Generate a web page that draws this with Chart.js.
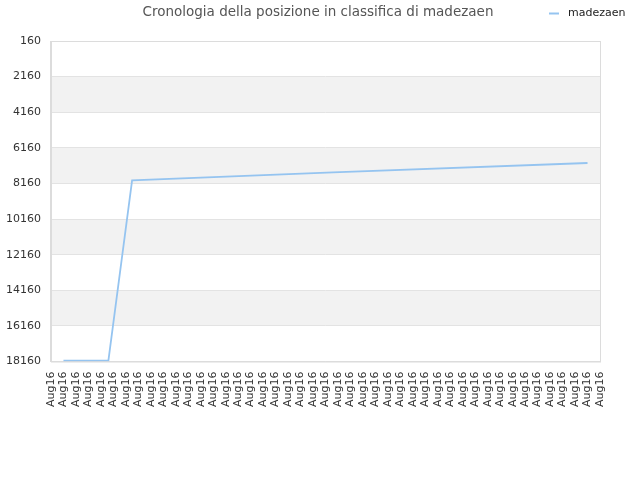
<!DOCTYPE html>
<html>
<head>
<meta charset="utf-8">
<script src="https://cdn.jsdelivr.net/npm/chart.js@4/dist/chart.umd.min.js"></script>
<style>
  html, body { margin: 0; padding: 0; background: #fff; }
  #wrap { width: 640px; height: 480px; }
</style>
</head>
<body>
<div id="wrap"><canvas id="rankChart" width="640" height="480"></canvas></div>
<script>
// positions over time (x = tick index on the time axis), rank
const timePoints = [1, 4.6, 6.5, 22.6, 43];
const rankValues = [18110, 18110, 7990, 7540, 7010];
const tickLabels = ['Aug16','Aug16','Aug16','Aug16','Aug16','Aug16','Aug16','Aug16','Aug16',
  'Aug16','Aug16','Aug16','Aug16','Aug16','Aug16','Aug16','Aug16','Aug16','Aug16','Aug16',
  'Aug16','Aug16','Aug16','Aug16','Aug16','Aug16','Aug16','Aug16','Aug16','Aug16','Aug16',
  'Aug16','Aug16','Aug16','Aug16','Aug16','Aug16','Aug16','Aug16','Aug16','Aug16','Aug16',
  'Aug16','Aug16','Aug16'];
const rankMin = 160;
const rankMax = 18160;
const rankStep = 2000;

const chartTitle = 'Cronologia della posizione in classifica di madezaen';
const seriesName = 'madezaen';
const lineColor = '#95c4f0';

// grey bands between every other pair of grid lines, frame, title row and legend
const bandPlugin = {
  id: 'bands',
  beforeDraw(chart) {
    const { ctx, chartArea, scales } = chart;
    const y = scales.y;
    ctx.save();
    ctx.fillStyle = '#f2f2f2';
    for (let i = 0; i < y.ticks.length - 1; i++) {
      if (i % 2 === 1) {
        const a = y.getPixelForValue(y.ticks[i].value);
        const b = y.getPixelForValue(y.ticks[i + 1].value);
        ctx.fillRect(chartArea.left, a, chartArea.right - chartArea.left, b - a);
      }
    }
    ctx.restore();
  },
  afterDraw(chart) {
    const { ctx, chartArea } = chart;
    ctx.save();
    ctx.strokeStyle = '#dcdcdc';
    ctx.lineWidth = 1;
    ctx.strokeRect(chartArea.left + 0.5, chartArea.top + 0.5,
      chartArea.right - chartArea.left, chartArea.bottom - chartArea.top);

    // title, centred on the page like the original
    ctx.fillStyle = '#555';
    ctx.font = '13.5px "DejaVu Sans"';
    ctx.textAlign = 'center';
    ctx.textBaseline = 'middle';
    ctx.fillText(chartTitle, 318, 12);

    // legend at the top right, same row as the title
    const ds = chart.data.datasets[0];
    ctx.strokeStyle = ds.borderColor;
    ctx.lineWidth = 2;
    ctx.beginPath();
    ctx.moveTo(549, 13.5);
    ctx.lineTo(559, 13.5);
    ctx.stroke();
    ctx.fillStyle = '#222';
    ctx.font = '11px "DejaVu Sans"';
    ctx.textAlign = 'left';
    ctx.fillText(ds.label, 568, 13);
    ctx.restore();
  }
};

const ctx = document.getElementById('rankChart').getContext('2d');
new Chart(ctx, {
  type: 'line',
  data: {
    datasets: [{
      label: seriesName,
      data: timePoints.map((t, i) => ({ x: t, y: rankValues[i] })),
      borderColor: lineColor,
      backgroundColor: lineColor,
      borderWidth: 1.8,
      pointRadius: 0,
      tension: 0,
      fill: false
    }]
  },
  options: {
    responsive: false,
    animation: false,
    layout: { padding: { left: -4, right: 40, top: 41, bottom: 71 } },
    plugins: {
      legend: { display: false },
      tooltip: { enabled: false },
      title: { display: false }
    },
    scales: {
      x: {
        type: 'linear',
        min: 0,
        max: tickLabels.length - 1,
        grid: { display: false },
        border: { display: true, color: '#dcdcdc' },
        ticks: {
          stepSize: 1,
          autoSkip: false,
          maxRotation: 90,
          minRotation: 90,
          padding: 2,
          color: '#333',
          font: { family: 'DejaVu Sans', size: 11 },
          callback: (v) => tickLabels[v]
        }
      },
      y: {
        reverse: true,
        min: rankMin,
        max: rankMax,
        grid: { color: '#e3e3e3', drawTicks: false },
        border: { display: true, color: '#dcdcdc' },
        ticks: {
          stepSize: rankStep,
          padding: 10,
          color: '#333',
          font: { family: 'DejaVu Sans', size: 11 },
          callback: (v) => String(v)
        }
      }
    }
  },
  plugins: [bandPlugin]
});
</script>
</body>
</html>
